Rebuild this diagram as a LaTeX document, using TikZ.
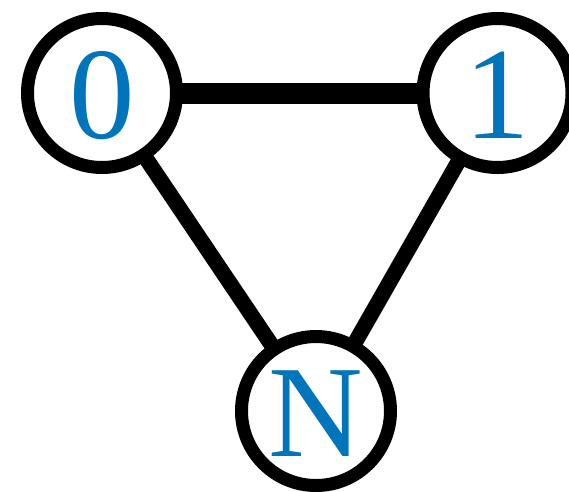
\documentclass[tikz,border=0pt]{standalone}
\usepackage{fontspec}
\setmainfont{Liberation Serif}
\usetikzlibrary{backgrounds}
\definecolor{lblblue}{RGB}{0,117,188}
\begin{document}
\begin{tikzpicture}[x=1pt,y=-1pt,
  vtx/.style={circle,draw=black,line width=13pt,fill=white,minimum size=149pt,inner sep=0pt,
    text=lblblue,font=\fontsize{131}{131}\selectfont,text height=90pt,text depth=0pt},
  thick edge/.style={line width=21pt},
  mid edge/.style={line width=15.5pt}]
\useasboundingbox (0,0) rectangle (569,491);
\node[vtx] (n0) at (102,93) {0};
\node[vtx] (n1) at (497.5,93) {1};
\node[vtx] (nN) at (316,411) {N};
\begin{scope}[on background layer]
\draw[thick edge] (n0.center) -- (n1.center);
\draw[mid edge] (n0.center) -- (nN.center);
\draw[mid edge] (n1.center) -- (nN.center);
\end{scope}
\end{tikzpicture}
\end{document}
